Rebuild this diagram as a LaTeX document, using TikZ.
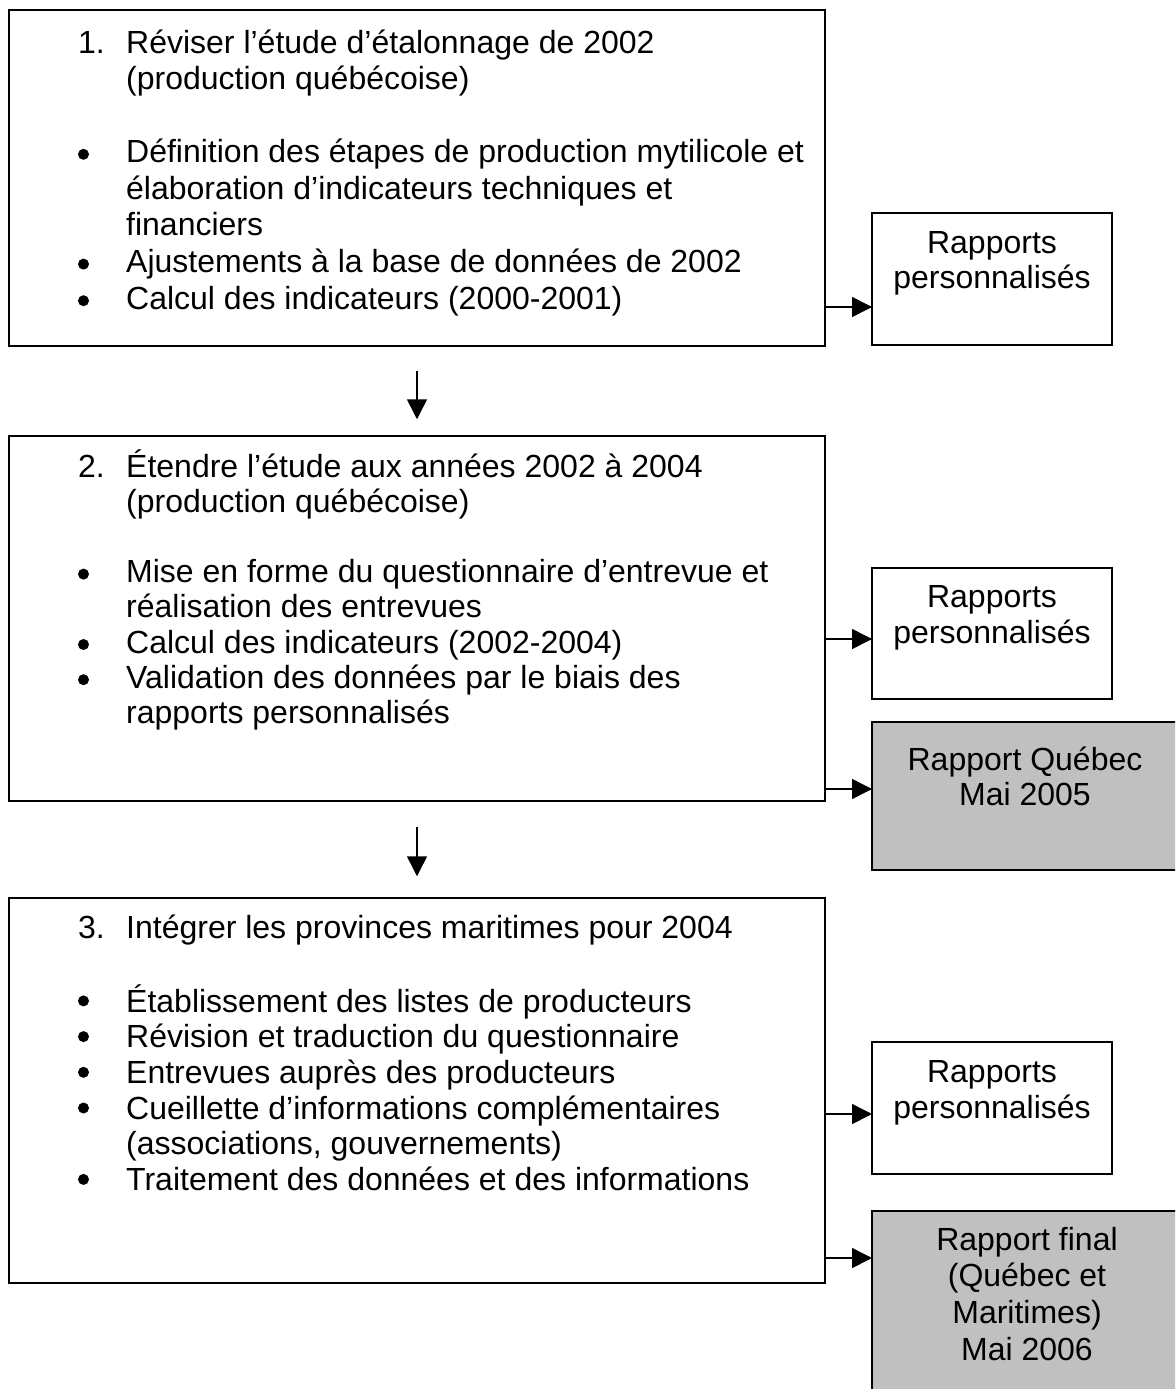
\documentclass[tikz,border=0pt]{standalone}
\usepackage{fontspec}
\setmainfont{Liberation Sans}
\usetikzlibrary{arrows.meta}
\definecolor{boxgray}{HTML}{C0C0C0}
\newcommand{\itm}[1]{\makebox[48pt][l]{#1}}
\begin{document}
\begin{tikzpicture}[x=1pt,y=-1pt,
  boxstyle/.style={draw, line width=1.5pt, rectangle, inner sep=0pt},
  graybox/.style={boxstyle, fill=boxgray},
  txt/.style={inner sep=0pt, anchor=base west, font=\fontsize{32}{#1}\selectfont},
  ctxt/.style={inner sep=0pt, anchor=base, font=\fontsize{32}{#1}\selectfont},
  arr/.style={-{Triangle[length=20pt,width=20pt]}, line width=1.5pt}]
\useasboundingbox (0,0) rectangle (1175,1389);
\clip (0,0) rectangle (1175,1389);

% main boxes
\node[boxstyle, minimum width=816pt, minimum height=336pt] (b1) at (417,178) {};
\node[boxstyle, minimum width=816pt, minimum height=365pt] (b2) at (417,618.5) {};
\node[boxstyle, minimum width=816pt, minimum height=385pt] (b3) at (417,1090.5) {};

% side boxes
\node[boxstyle, minimum width=240pt, minimum height=132pt] (s1) at (992,279) {};
\node[boxstyle, minimum width=240pt, minimum height=131pt] (s2) at (992,633.5) {};
\node[graybox, minimum width=310pt, minimum height=148pt] (g1) at (1027,796) {};
\node[boxstyle, minimum width=240pt, minimum height=132pt] (s3) at (992,1108) {};
\node[graybox, minimum width=310pt, minimum height=200pt] (g2) at (1027,1311) {};

% main texts
\node[txt=36.6] (t1) at (78,53) {\begin{tabular}[t]{@{}l@{}}
\itm{1.}Réviser l’étude d’étalonnage de 2002\\
\itm{}(production québécoise)\\
\\
\itm{}Définition des étapes de production mytilicole et\\
\itm{}élaboration d’indicateurs techniques et\\
\itm{}financiers\\
\itm{}Ajustements à la base de données de 2002\\
\itm{}Calcul des indicateurs (2000-2001)
\end{tabular}};

\node[txt=35.2] (t2) at (78,477) {\begin{tabular}[t]{@{}l@{}}
\itm{2.}Étendre l’étude aux années 2002 à 2004\\
\itm{}(production québécoise)\\
\\
\itm{}Mise en forme du questionnaire d’entrevue et\\
\itm{}réalisation des entrevues\\
\itm{}Calcul des indicateurs (2002-2004)\\
\itm{}Validation des données par le biais des\\
\itm{}rapports personnalisés
\end{tabular}};

\node[txt=35.7] (t3) at (78,938) {\begin{tabular}[t]{@{}l@{}}
\itm{3.}Intégrer les provinces maritimes pour 2004\\
\\
\itm{}Établissement des listes de producteurs\\
\itm{}Révision et traduction du questionnaire\\
\itm{}Entrevues auprès des producteurs\\
\itm{}Cueillette d’informations complémentaires\\
\itm{}(associations, gouvernements)\\
\itm{}Traitement des données et des informations
\end{tabular}};

% bullets (centre about 8.5px above each bulleted baseline)
\foreach \by in {162.8,272.6,309.2, 582.6,653.0,688.2, 1009.4,1045.1,1080.8,1116.5,1187.9}
  \fill (83.5,\by-8.5) circle (5.5pt);

% side texts
\node[ctxt=35.5] (ts1) at (992,253) {\begin{tabular}[t]{@{}c@{}}Rapports\\personnalisés\end{tabular}};
\node[ctxt=36] (ts2) at (992,607) {\begin{tabular}[t]{@{}c@{}}Rapports\\personnalisés\end{tabular}};
\node[ctxt=35.5] (tg1) at (1025,770) {\begin{tabular}[t]{@{}c@{}}Rapport Québec\\Mai 2005\end{tabular}};
\node[ctxt=36] (ts3) at (992,1082) {\begin{tabular}[t]{@{}c@{}}Rapports\\personnalisés\end{tabular}};
\node[ctxt=36.7] (tg2) at (1027,1250) {\begin{tabular}[t]{@{}c@{}}Rapport final\\(Québec et\\Maritimes)\\Mai 2006\end{tabular}};

% arrow end points
\coordinate (a1) at (872,307);
\coordinate (a2) at (872,639);
\coordinate (a3) at (872,789);
\coordinate (a4) at (872,1114);
\coordinate (a5) at (872,1258);

\draw[arr] (b1.east |- a1) -- (a1);
\draw[arr] (b2.east |- a2) -- (a2);
\draw[arr] (b2.east |- a3) -- (a3);
\draw[arr] (b3.east |- a4) -- (a4);
\draw[arr] (b3.east |- a5) -- (a5);

\draw[arr] ([yshift=-24pt]b1.south) -- ([yshift=16pt]b2.north);
\draw[arr] ([yshift=-25pt]b2.south) -- ([yshift=21pt]b3.north);
\end{tikzpicture}
\end{document}
